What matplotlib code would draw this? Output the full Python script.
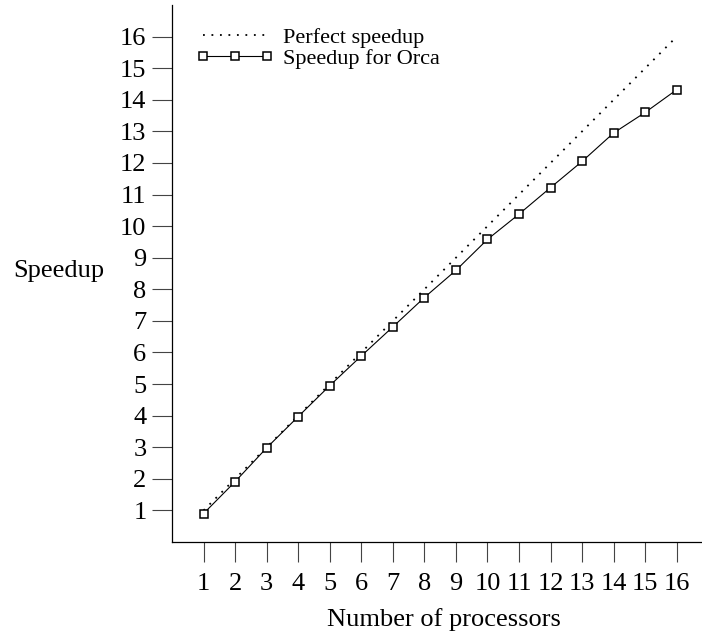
import matplotlib

matplotlib.use("Agg", force=True)
import matplotlib.pyplot as plt
import numpy as np

plt.rcParams["font.family"] = ["Liberation Serif", "DejaVu Serif"]

processors = [1, 2, 3, 4, 5, 6, 7, 8, 9, 10, 11, 12, 13, 14, 15, 16]
perfect_speedup = [1, 2, 3, 4, 5, 6, 7, 8, 9, 10, 11, 12, 13, 14, 15, 16]
orca_speedup = [0.9, 1.91, 2.98, 3.97, 4.95, 5.89, 6.81, 7.74,
                8.6, 9.58, 10.38, 11.22, 12.05, 12.95, 13.6, 14.32]
y_ticks = list(range(1, 17))

W, H = 702, 638
fig = plt.figure(figsize=(W / 100, H / 100), dpi=100)
ax = fig.add_axes([172 / W, 1 - 542 / H, (W - 172) / W, 537 / H])

ax.plot(processors, perfect_speedup, color="black", lw=1.3,
        linestyle=(0, (1, 3.7)), label="Perfect speedup")
ax.plot(processors, orca_speedup, color="black", lw=0.8, marker="s",
        markersize=6, markerfacecolor="white", markeredgecolor="black",
        markeredgewidth=1.1, label="Speedup for Orca")

ax.set_xlim(0, 16.8)
ax.set_ylim(0, 17)
ax.set_xticks(processors)
ax.set_yticks(y_ticks)
ax.tick_params(axis="both", direction="out", length=14.4, width=0.8,
               color="#444444", labelsize=19)
ax.tick_params(axis="y", pad=4)
ax.tick_params(axis="x", pad=8)
for side in ("top", "right"):
    ax.spines[side].set_visible(False)
for side in ("left", "bottom"):
    ax.spines[side].set_linewidth(0.9)

ax.set_xlabel("Number of processors", fontsize=19, va="center")
ax.xaxis.set_label_coords((444 - 172) / 530, (542 - 620) / 537)
ax.set_ylabel("Speedup", fontsize=19, rotation=0, ha="left", va="center")
ax.yaxis.set_label_coords((13 - 172) / 530, 0.505)

ax.legend(loc="upper left", bbox_to_anchor=(196 / W, 1 - 27 / H),
          bbox_transform=fig.transFigure, frameon=False, fontsize=16,
          borderpad=0, borderaxespad=0, handlelength=3.5, handletextpad=0.4,
          labelspacing=0.02, numpoints=3)

fig.savefig("out.png", dpi=100)
plt.close(fig)
